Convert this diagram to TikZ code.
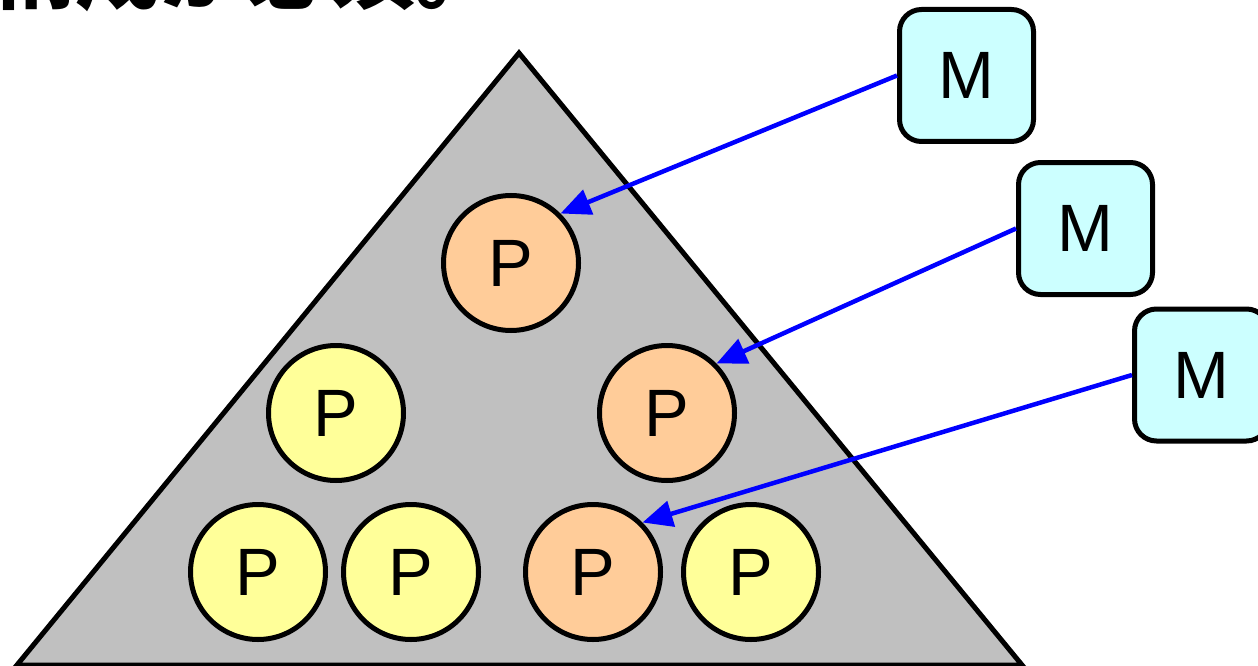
\documentclass[tikz,border=0pt]{standalone}
\usepackage{fontspec}
\setmainfont{Liberation Sans}
\newfontfamily\jpfont{Noto Sans CJK JP}
\usetikzlibrary{arrows.meta}
\definecolor{trigray}{HTML}{C0C0C0}
\definecolor{porange}{HTML}{FFCC99}
\definecolor{pyellow}{HTML}{FFFF99}
\definecolor{mcyan}{HTML}{CCFFFF}
\definecolor{arrowblue}{HTML}{0000FF}
\tikzset{
  pcirc/.style={circle, draw=black, line width=5pt, minimum size=135pt, inner sep=0pt,
    font=\fontsize{67}{70}\selectfont},
  mbox/.style={rectangle, rounded corners=22pt, draw=black, line width=5pt, fill=mcyan,
    minimum width=134pt, minimum height=132pt, inner sep=0pt,
    font=\fontsize{67}{70}\selectfont},
  conn/.style={draw=arrowblue, line width=4.5pt, -{Triangle[length=30pt,width=26pt]}},
}
\begin{document}
\begin{tikzpicture}[x=1pt,y=-1pt]
\useasboundingbox (0,0) rectangle (1258,666);
\node[anchor=base west, inner sep=0pt] (title) at (-10,3)
  {\jpfont\bfseries\fontsize{85}{100}\selectfont 構成が必須。};
\filldraw[fill=trigray, draw=black, line width=5pt, line join=miter]
  (519,53) -- (1022,665) -- (17,665) -- cycle;
\node[pcirc, fill=porange] (p1) at (511,263) {P};
\node[pcirc, fill=pyellow] (p2) at (336,413) {P};
\node[pcirc, fill=porange] (p3) at (667,413) {P};
\node[pcirc, fill=pyellow] (p4) at (258,572) {P};
\node[pcirc, fill=pyellow] (p5) at (411,572) {P};
\node[pcirc, fill=porange] (p6) at (593,572) {P};
\node[pcirc, fill=pyellow] (p7) at (751,572) {P};
\node[mbox] (m1) at (966.5,75.5) {M};
\node[mbox] (m2) at (1085.5,228.5) {M};
\node[mbox] (m3) at (1201.5,375) {M};
\draw[conn] (m1.west) -- (p1.45);
\draw[conn] (m2.west) -- (p3.45);
\draw[conn] (m3.west) -- (p6.45);
\end{tikzpicture}
\end{document}
